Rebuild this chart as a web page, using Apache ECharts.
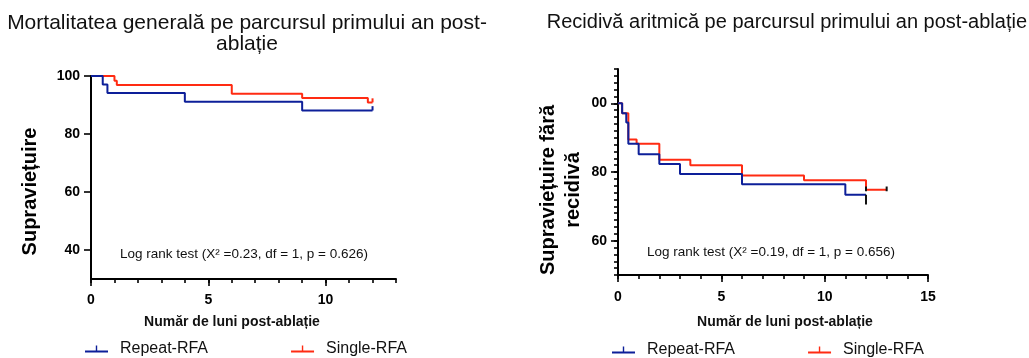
<!DOCTYPE html>
<html>
<head>
<meta charset="utf-8">
<script src="https://cdn.jsdelivr.net/npm/echarts@6/dist/echarts.min.js"></script>
<style>
  html, body { margin: 0; padding: 0; background: #fff; }
  #chartRoot { width: 1029px; height: 358px; }
</style>
</head>
<body>
<div id="chartRoot"></div>
<script>
// mortalitate (stanga) - luni / supravietuire %
const mortRepeatX = [0, 0.5, 0.7, 4, 9, 12];
const mortRepeatY = [100, 97.1, 94.1, 91.1, 88.1, 88.1];
const mortSingleX = [0, 1.0, 1.1, 6, 9, 11.8, 12];
const mortSingleY = [100, 98.4, 96.9, 93.9, 92.4, 90.9, 90.9];
// cenzurati: [luna, de la, pana la]
const mortRepeatCensor = [[12, 88.1, 89.6]];
const mortSingleCensor = [[12, 90.9, 92.3]];

// recidiva (dreapta)
const recRepeatX = [0, 0.2, 0.4, 0.5, 1, 2, 3, 6, 11, 12];
const recRepeatY = [100, 97.1, 94.4, 88.2, 85.2, 82.3, 79.4, 76.4, 73.4, 73.4];
const recSingleX = [0, 0.2, 0.5, 0.9, 2, 3.5, 6, 9, 12, 13];
const recSingleY = [100, 97.1, 89.5, 88.2, 83.6, 82.0, 79.0, 77.6, 74.8, 74.8];
const recCensor = [[12, 70.5, 73.4], [12, 74.4, 75.8], [13, 74.4, 75.8]];

// tick-uri
const mortYTicks = [40, 60, 80, 100];
const mortXTicks = [0, 5, 10];
const mortXMinor = [0, 1, 2, 3, 4, 5, 6, 7, 8, 9, 10, 11, 12, 13];
const recYTicks = [60, 80, 100];
const recYLabels = ["60", "80", "00"];
const recYMinor = [50, 52, 54, 56, 58, 60, 62, 64, 66, 68, 70, 72, 74, 76, 78, 80,
  82, 84, 86, 88, 90, 92, 94, 96, 98, 100, 102, 104, 106, 108, 110];
const recXTicks = [0, 5, 10, 15];
const recXMinor = [0, 1, 2, 3, 4, 5, 6, 7, 8, 9, 10, 11, 12, 13, 14, 15];

const FONT = "'Liberation Sans', Arial, Helvetica, sans-serif";
const BLUE = "#0d1f99";
const RED = "#ff2b12";
const LEGEND_ICON = "path://M0,5 L23,5 L23,7 L0,7 Z M10.8,0 L12.2,0 L12.2,6 L10.8,6 Z";

const pairs = (xs, ys) => xs.map((x, i) => [x, ys[i]]);
const censorData = (list) => {
  const out = [];
  list.forEach((c) => {
    out.push([c[0], c[1]], [c[0], c[2]], [c[0], "-"]);
  });
  return out;
};

const axisLine = { show: true, lineStyle: { color: "#000", width: 2 } };
const labelStyle = { fontSize: 14, fontWeight: "bold", color: "#000", fontFamily: FONT };

function mainAxis(grid, pos, min, max, ticks, name, extra) {
  return Object.assign({
    gridIndex: grid,
    type: "value",
    position: pos,
    min: min,
    max: max,
    axisLine: axisLine,
    axisTick: { show: true, customValues: ticks, length: 7, lineStyle: { color: "#000", width: 1.6 } },
    axisLabel: Object.assign({ customValues: ticks }, labelStyle),
    splitLine: { show: false },
    name: name,
    nameLocation: "middle",
  }, extra);
}
function minorAxis(grid, pos, min, max, ticks) {
  return {
    gridIndex: grid,
    type: "value",
    position: pos,
    min: min,
    max: max,
    axisLine: { show: false },
    axisTick: { show: true, customValues: ticks, length: 4, lineStyle: { color: "#000", width: 1.6 } },
    axisLabel: { show: false, customValues: ticks },
    splitLine: { show: false },
  };
}

const myChart = echarts.init(document.getElementById("chartRoot"));
const option = {
  animation: false,
  backgroundColor: "#fff",
  title: [
    {
      text: "Mortalitatea generală pe parcursul primului an post-\nablație",
      left: 247, top: 12, textAlign: "center", padding: 0,
      textStyle: { fontSize: 21, fontWeight: "normal", lineHeight: 21.5, color: "#111", fontFamily: FONT },
    },
    {
      text: "Recidivă aritmică pe parcursul primului an post-ablație",
      right: 2, top: 12, padding: 0,
      textStyle: { fontSize: 20, fontWeight: "normal", lineHeight: 21, color: "#111", fontFamily: FONT },
    },
    {
      text: "Log rank test (X² =0.23, df = 1, p = 0.626)",
      left: 120, top: 246, padding: 0,
      textStyle: { fontSize: 13.5, fontWeight: "normal", lineHeight: 16, color: "#111", fontFamily: FONT },
    },
    {
      text: "Log rank test (X² =0.19, df = 1, p = 0.656)",
      left: 647, top: 244, padding: 0,
      textStyle: { fontSize: 13.5, fontWeight: "normal", lineHeight: 16, color: "#111", fontFamily: FONT },
    },
  ],
  legend: [
    {
      data: ["Repeat-RFA", "Single-RFA"],
      left: 85, top: 341, padding: 0, itemGap: 83,
      itemWidth: 23, itemHeight: 7, icon: LEGEND_ICON,
      textStyle: { fontSize: 16, color: "#111", fontFamily: FONT, padding: [0, 0, 0, 7] },
    },
    {
      data: ["Repeat-RFA", "Single-RFA"],
      left: 612, top: 342, padding: 0, itemGap: 73,
      itemWidth: 23, itemHeight: 7, icon: LEGEND_ICON,
      textStyle: { fontSize: 16, color: "#111", fontFamily: FONT, padding: [0, 0, 0, 7] },
    },
  ],
  grid: [
    { left: 91, top: 76, width: 305, height: 203 },
    { left: 618, top: 69, width: 310, height: 206 },
  ],
  xAxis: [
    mainAxis(0, "bottom", 0, 13, mortXTicks, "Număr de luni post-ablație", {
      nameGap: 36,
      nameTextStyle: { fontSize: 14, fontWeight: "bold", color: "#111", fontFamily: FONT, padding: [0, 23, 0, 0] },
      axisLabel: Object.assign({ customValues: mortXTicks, margin: 14 }, labelStyle),
    }),
    minorAxis(0, "bottom", 0, 13, mortXMinor),
    mainAxis(1, "bottom", 0, 15, recXTicks, "Număr de luni post-ablație", {
      nameGap: 40,
      nameTextStyle: { fontSize: 14, fontWeight: "bold", color: "#111", fontFamily: FONT, padding: [0, 0, 0, 24] },
      axisLabel: Object.assign({ customValues: recXTicks, margin: 15 }, labelStyle),
    }),
    minorAxis(1, "bottom", 0, 15, recXMinor),
  ],
  yAxis: [
    mainAxis(0, "left", 30, 100, mortYTicks, "Supraviețuire", {
      nameGap: 49,
      nameTextStyle: { fontSize: 20, fontWeight: "bold", color: "#000", fontFamily: FONT, lineHeight: 24, padding: [0, 28, 0, 0] },
      axisLabel: Object.assign({ customValues: mortYTicks, margin: 11 }, labelStyle),
    }),
    minorAxis(0, "left", 30, 100, []),
    mainAxis(1, "left", 50, 110, recYTicks, "Supraviețuire fără\nrecidivă", {
      nameGap: 32,
      nameTextStyle: { fontSize: 20, fontWeight: "bold", color: "#000", fontFamily: FONT, lineHeight: 25, padding: [0, 36, 0, 0] },
      axisLabel: Object.assign({
        customValues: recYTicks,
        margin: 11,
        formatter: (v) => recYLabels[recYTicks.indexOf(v)],
      }, labelStyle),
    }),
    minorAxis(1, "left", 50, 110, recYMinor),
  ],
  series: [
    {
      name: "Single-RFA", type: "line", step: "end", showSymbol: false,
      xAxisIndex: 0, yAxisIndex: 0, color: RED,
      lineStyle: { width: 2, color: RED },
      data: pairs(mortSingleX, mortSingleY),
    },
    {
      name: "Repeat-RFA", type: "line", step: "end", showSymbol: false,
      xAxisIndex: 0, yAxisIndex: 0, color: BLUE,
      lineStyle: { width: 2, color: BLUE },
      data: pairs(mortRepeatX, mortRepeatY),
    },
    {
      name: "censorSingleL", type: "line", showSymbol: false, silent: true,
      xAxisIndex: 0, yAxisIndex: 0, lineStyle: { width: 2, color: RED },
      data: censorData(mortSingleCensor),
    },
    {
      name: "censorRepeatL", type: "line", showSymbol: false, silent: true,
      xAxisIndex: 0, yAxisIndex: 0, lineStyle: { width: 2, color: BLUE },
      data: censorData(mortRepeatCensor),
    },
    {
      name: "Single-RFA", type: "line", step: "end", showSymbol: false,
      xAxisIndex: 2, yAxisIndex: 2, color: RED,
      lineStyle: { width: 2, color: RED },
      data: pairs(recSingleX, recSingleY),
    },
    {
      name: "Repeat-RFA", type: "line", step: "end", showSymbol: false,
      xAxisIndex: 2, yAxisIndex: 2, color: BLUE,
      lineStyle: { width: 2, color: BLUE },
      data: pairs(recRepeatX, recRepeatY),
    },
    {
      name: "censorR", type: "line", showSymbol: false, silent: true,
      xAxisIndex: 2, yAxisIndex: 2, lineStyle: { width: 2, color: "#111" },
      data: censorData(recCensor),
    },
  ],
};
myChart.setOption(option);
</script>
</body>
</html>
